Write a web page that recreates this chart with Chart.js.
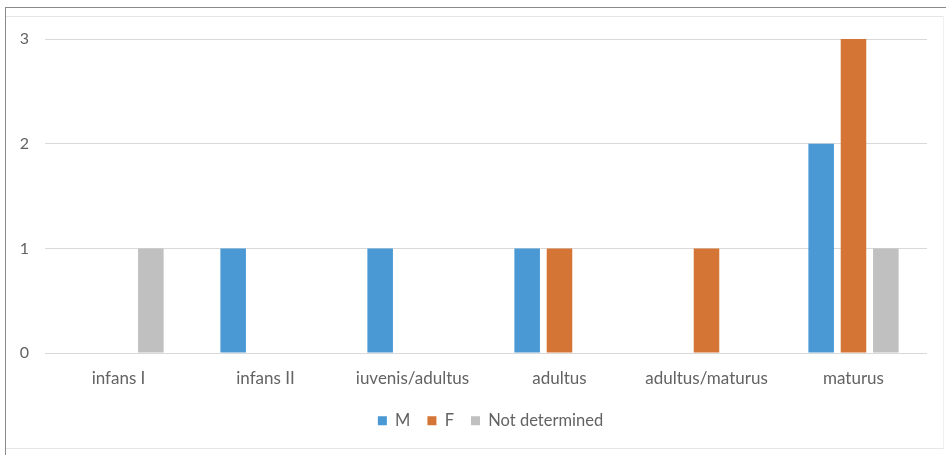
<!DOCTYPE html>
<html>
<head>
<meta charset="utf-8">
<script src="https://cdn.jsdelivr.net/npm/chart.js@4"></script>
<style>
  html, body { margin: 0; padding: 0; background: #fff; }
  #wrap { position: relative; width: 946px; height: 455px; overflow: hidden; }
  #frame { position: absolute; left: 5px; top: 7px; width: 960px; height: 460px;
           border-top: 1px solid #8a8a8a; border-left: 1px solid #8a8a8a; box-sizing: border-box; }
  .rule { position: absolute; left: 6px; width: 937px; height: 1px; background: #e6e6e6; }
  .side { position: absolute; left: 943px; top: 16px; width: 1px; height: 433px; background: #f0f0f0; }
  canvas { position: absolute; left: 0; top: 0; }
</style>
</head>
<body>
<div id="wrap">
  <div id="frame"></div>
  <div class="rule" style="top:16px"></div>
  <div class="rule" style="top:448px"></div>
  <div class="side"></div>
  <canvas id="c" width="946" height="455"></canvas>
</div>
<script>
// Age groups and counts by sex
const categories = ['infans I', 'infans II', 'iuvenis/adultus', 'adultus', 'adultus/maturus', 'maturus'];
const male = [0, 1, 1, 1, 0, 2];
const female = [0, 0, 0, 1, 1, 3];
const notDetermined = [1, 0, 0, 0, 0, 1];
const yTicks = [0, 1, 2, 3];

const textColor = '#636363';
const fontFamily = 'Lato, "Open Sans", sans-serif';

// Nudge the legend block to the right of the canvas centre line
const legendShift = {
  id: 'legendShift',
  afterLayout(chart) {
    const lg = chart.legend;
    if (lg) { lg.left += 27; lg.right += 27; }
  }
};

new Chart(document.getElementById('c'), {
  type: 'bar',
  data: {
    labels: categories,
    datasets: [
      { label: 'M', data: male, backgroundColor: '#4a99d4' },
      { label: 'F', data: female, backgroundColor: '#d57535' },
      { label: 'Not determined', data: notDetermined, backgroundColor: '#c0c0c0' }
    ]
  },
  plugins: [legendShift],
  options: {
    responsive: false,
    animation: false,
    devicePixelRatio: 1,
    categoryPercentage: 0.66,
    barPercentage: 0.79,
    layout: { padding: { left: 0, right: 19, top: 39, bottom: 16 } },
    plugins: {
      tooltip: { enabled: false },
      legend: {
        position: 'bottom',
        labels: {
          boxWidth: 9,
          boxHeight: 9,
          padding: 17,
          color: textColor,
          font: { family: fontFamily, size: 16.5 }
        }
      }
    },
    scales: {
      x: {
        grid: { display: false },
        border: { display: false },
        ticks: { color: textColor, font: { family: fontFamily, size: 17 }, padding: 7 }
      },
      y: {
        min: 0,
        max: 3,
        afterFit: s => { s.width = 45; },
        afterBuildTicks: s => { s.ticks = yTicks.map(v => ({ value: v })); },
        grid: { color: '#d9d9d9', lineWidth: 1, drawTicks: false },
        border: { display: false },
        ticks: { color: textColor, font: { family: fontFamily, size: 16 }, padding: 16 }
      }
    }
  }
});
</script>
</body>
</html>
